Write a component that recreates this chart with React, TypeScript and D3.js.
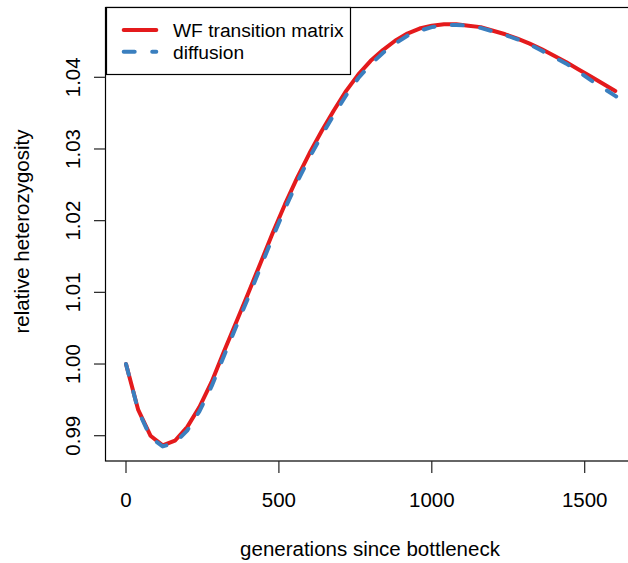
import React from "react";
import * as d3 from "d3";

const generationsWF = [0, 40, 80, 120, 160, 200, 240, 280, 320, 360, 400, 440, 480, 520, 560, 600, 640, 680, 720, 760, 800, 840, 880, 920, 960, 1000, 1040, 1080, 1120, 1160, 1200, 1240, 1280, 1320, 1360, 1400, 1440, 1480, 1520, 1560, 1600];
const heterozygosityWF = [1.0, 0.9936, 0.99, 0.98865, 0.9893, 0.9912, 0.994, 0.9975, 1.0017, 1.0058, 1.0099, 1.0141, 1.0183, 1.0223, 1.026, 1.0294, 1.0325, 1.0354, 1.0381, 1.0404, 1.0423, 1.0438, 1.0451, 1.0461, 1.0468, 1.0472, 1.0474, 1.0474, 1.0472, 1.047, 1.0465, 1.046, 1.0454, 1.0447, 1.0439, 1.043, 1.0421, 1.0411, 1.0401, 1.0391, 1.0381];

const generationsDiff = [0, 40, 80, 120, 160, 200, 240, 280, 320, 360, 400, 440, 480, 520, 560, 600, 640, 680, 720, 760, 800, 840, 880, 920, 960, 1000, 1040, 1080, 1120, 1160, 1200, 1240, 1280, 1320, 1360, 1400, 1440, 1480, 1520, 1560, 1600, 1640, 1680, 1720];
const heterozygosityDiff = [1.0, 0.9935, 0.9898, 0.9885, 0.989, 0.9907, 0.9934, 0.9969, 1.0011, 1.0052, 1.0093, 1.0135, 1.0177, 1.0217, 1.0254, 1.0288, 1.0319, 1.0348, 1.0375, 1.0399, 1.0418, 1.0434, 1.0447, 1.0458, 1.0465, 1.047, 1.0473, 1.0473, 1.0472, 1.0469, 1.0464, 1.0459, 1.0453, 1.0446, 1.0437, 1.0428, 1.0419, 1.0408, 1.0396, 1.0385, 1.0374, 1.0363, 1.0352, 1.0341];

const xTicks = [0, 500, 1000, 1500];
const yTicks = [0.99, 1.0, 1.01, 1.02, 1.03, 1.04];
const seriesNames = ["WF transition matrix", "diffusion"];

const W = 628;
const H = 563;
const FONT = "'Liberation Sans', Arial, Helvetica, sans-serif";
const RED = "#E41A1C";
const BLUE = "#3A7FBF";

export default function App() {
  const x = d3.scaleLinear().domain([0, 1500]).range([126, 584.7]);
  const y = d3.scaleLinear().domain([0.99, 1.04]).range([435.7, 77.3]);
  const box = { left: 105.5, top: 7.5, right: 672, bottom: 461 };

  const line = d3
    .line<[number, number]>()
    .x((d) => x(d[0]))
    .y((d) => y(d[1]));

  const wf = generationsWF.map((g, i) => [g, heterozygosityWF[i]] as [number, number]);
  const diff = generationsDiff.map((g, i) => [g, heterozygosityDiff[i]] as [number, number]);

  return (
    <svg width={W} height={H} style={{ position: "absolute", left: 0, top: 0 }} fontFamily={FONT}>
      <rect x={0} y={0} width={W} height={H} fill="#fff" />
      <defs>
        <clipPath id="plotclip">
          <rect x={box.left} y={box.top} width={box.right - box.left} height={box.bottom - box.top} />
        </clipPath>
      </defs>
      <g clipPath="url(#plotclip)">
        <path d={line(wf) ?? ""} fill="none" stroke={RED} strokeWidth={4} strokeLinejoin="round" strokeLinecap="round" />
        <path d={line(diff) ?? ""} fill="none" stroke={BLUE} strokeWidth={4} strokeLinejoin="round" strokeLinecap="round" strokeDasharray="11 17.5" />
      </g>
      {/* plot box */}
      <rect x={box.left} y={box.top} width={box.right - box.left} height={box.bottom - box.top} fill="none" stroke="#000" strokeWidth={1.2} />
      {/* x axis */}
      {xTicks.map((t) => (
        <g key={"x" + t}>
          <line x1={x(t)} x2={x(t)} y1={box.bottom} y2={box.bottom + 12} stroke="#222" strokeWidth={1.2} />
          <text x={x(t)} y={507.3} textAnchor="middle" fontSize={20.5} fill="#000">
            {d3.format("d")(t)}
          </text>
        </g>
      ))}
      {/* y axis */}
      {yTicks.map((t) => (
        <g key={"y" + t}>
          <line x1={box.left - 11.5} x2={box.left} y1={y(t)} y2={y(t)} stroke="#222" strokeWidth={1.2} />
          <text transform={`translate(80,${y(t)}) rotate(-90)`} textAnchor="middle" fontSize={20.5} fill="#000">
            {d3.format(".2f")(t)}
          </text>
        </g>
      ))}
      <text x={370} y={556} textAnchor="middle" fontSize={20.5} fill="#000">
        generations since bottleneck
      </text>
      <text transform={`translate(29,231.5) rotate(-90)`} textAnchor="middle" fontSize={20.5} fill="#000">
        relative heterozygosity
      </text>
      {/* legend */}
      <rect x={106.5} y={7.5} width={244} height={67} fill="#fff" stroke="#000" strokeWidth={1.2} />
      <line x1={123.7} x2={156.3} y1={30} y2={30} stroke={RED} strokeWidth={4} strokeLinecap="round" />
      <line x1={123.7} x2={156.3} y1={51.7} y2={51.7} stroke={BLUE} strokeWidth={4} strokeLinecap="round" strokeDasharray="11 17.5" />
      <text x={173} y={37} fontSize={19.2} fill="#000">{seriesNames[0]}</text>
      <text x={173} y={58.5} fontSize={19.2} fill="#000">{seriesNames[1]}</text>
    </svg>
  );
}
